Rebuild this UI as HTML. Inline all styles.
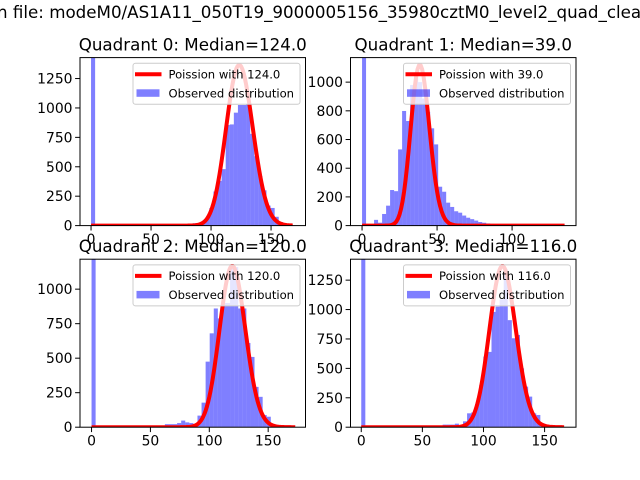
<!DOCTYPE html>
<html><head><meta charset="utf-8"><style>
html,body{margin:0;padding:0;background:#fff;}
svg{display:block;font-family:"DejaVu Sans","Liberation Sans",sans-serif;}
</style></head><body>
<svg id="fig" width="640" height="480" viewBox="0 0 640 480">
<text x="-3" y="18" font-size="16.7" fill="#000">n file: modeM0/AS1A11_050T19_9000005156_35980cztM0_level2_quad_clean</text>
</svg>
<script>
const q0Counts=[3000,2,2,2,2,2,2,2,2,2,2,2,2,2,2,2,2,2,2,2,2,2,10,10,12,20,20,30,60,150,290,380,480,855,860,960,1025,1025,1030,780,590,420,300,170,150,75,30,12,5,2];
const q1Counts=[3000,5,10,40,20,81,139,248,240,531,799,729,980,1040,1000,886,793,678,566,271,236,160,130,100,90,70,55,45,35,25,20,15,12,10,8,7,5,3,3,2,2,2,1,1,1,1,1,1,1,1,1];
const q2Counts=[3000,2,2,10,10,2,2,2,2,2,2,10,10,2,12,12,12,12,22,22,22,30,48,35,30,20,84,178,475,680,860,788,900,900,1150,1160,860,860,610,509,292,220,88,76,20,8,3,2,2,1];
const q3Counts=[3000,1,1,1,1,1,1,1,1,1,1,1,1,1,1,1,10,10,10,10,22,22,22,30,15,50,118,125,200,359,600,640,980,1025,1087,1340,910,756,784,500,345,260,118,104,34,10,5,3,2,1];
const binWidths=[3.4,2.67,3.46,3.33];
const medians=[124,39,120,116];
const curvePeaks=[1365,1119,1168,1369];
const curveMax=[168,135,173,166];
const xTicks=[[0,50,100,150],[0,50,100],[0,50,100,150],[0,50,100,150]];
const yTicks=[[0,250,500,750,1000,1250],[0,200,400,600,800,1000],[0,250,500,750,1000],[0,250,500,750,1000,1250]];
const titles=["Quadrant 0: Median=124.0","Quadrant 1: Median=39.0","Quadrant 2: Median=120.0","Quadrant 3: Median=116.0"];
const xLims=[[-9.2,178.7],[-7.7,142.6],[-9.8,181.7],[-8.8,175.7]];
const yLims=[[0,1428],[0,1171],[0,1217],[0,1428]];
const allCounts=[q0Counts,q1Counts,q2Counts,q3Counts];
const axesBoxes=[[80,57.6],[350.5,57.6],[80,259.2],[350.5,259.2]];
const AW=225.5, AH=168;
const NS="http://www.w3.org/2000/svg";
const fig=document.getElementById('fig');
function mk(tag,attrs,parent){const e=document.createElementNS(NS,tag);for(const k in attrs)e.setAttribute(k,attrs[k]);(parent||fig).appendChild(e);return e;}
function logFact(n){let s=0;for(let i=2;i<=n;i++)s+=Math.log(i);return s;}
for(let q=0;q<4;q++){
  const [ax,ay]=axesBoxes[q];
  const xs=v=>ax+(v-xLims[q][0])/(xLims[q][1]-xLims[q][0])*AW;
  const ys=v=>ay+AH-(v-yLims[q][0])/(yLims[q][1]-yLims[q][0])*AH;
  const g=mk('g',{});
  
  
  const cp=mk('clipPath',{id:'clip'+q},g);
  mk('rect',{x:ax,y:ay,width:AW,height:AH},cp);
  const bars=mk('g',{'clip-path':'url(#clip'+q+')'},g);
  
  
  const bw=binWidths[q];
  allCounts[q].forEach((c,i)=>{
    const x1=xs(i*bw),x2=xs((i+1)*bw);
    const r=mk('rect',{x:x1,y:ys(c),width:x2-x1,height:ys(0)-ys(c),fill:'#0000ff','fill-opacity':0.5},bars);
    
    
  });
  const mu=medians[q];const lm=logFact(mu);
  let pts=[];
  for(let x=0;x<=curveMax[q];x++){
    const v=curvePeaks[q]*Math.exp((x-mu)*Math.log(mu)-(logFact(x)-lm));
    pts.push(xs(x).toFixed(2)+','+ys(v).toFixed(2));
  }
  const pl=mk('polyline',{points:pts.join(' '),fill:'none',stroke:'#ff0000','stroke-width':4,'stroke-linejoin':'round','clip-path':'url(#clip'+q+')'},g);
  
  
  const fr=mk('rect',{x:ax,y:ay,width:AW,height:AH,fill:'none',stroke:'#000','stroke-width':1},g);
  
  
  xTicks[q].forEach(t=>{
    const x=xs(t);
    mk('line',{x1:x,x2:x,y1:ay+AH,y2:ay+AH+4.9,stroke:'#000','stroke-width':1},g);
    const tx=mk('text',{x:x,y:ay+AH+18.5,'font-size':13.9,'text-anchor':'middle',fill:'#000'},g);
    tx.textContent=t;
    
    
  });
  yTicks[q].forEach(t=>{
    const y=ys(t);
    mk('line',{x1:ax-4.9,x2:ax,y1:y,y2:y,stroke:'#000','stroke-width':1},g);
    const tx=mk('text',{x:ax-7.5,y:y+5,'font-size':13.9,'text-anchor':'end',fill:'#000'},g);
    tx.textContent=t;
    
    
  });
  const tt=mk('text',{x:ax+AW/2,y:ay-7,'font-size':16.7,'text-anchor':'middle',fill:'#000'},g);
  tt.textContent=titles[q];
  
  
  const lg=mk('g',{},g);
  
  
  const lx=ax+AW-172.5, lyy=ay+5.7;
  mk('rect',{x:lx,y:lyy,width:167,height:41,rx:2.5,fill:'#fff','fill-opacity':0.8,stroke:'#cccccc','stroke-width':1},lg);
  mk('line',{x1:lx+2,x2:lx+28.5,y1:lyy+11,y2:lyy+11,stroke:'#ff0000','stroke-width':4},lg);
  const t1=mk('text',{x:lx+35.5,y:lyy+15.2,'font-size':11.6,fill:'#000'},lg);
  t1.textContent='Poission with '+medians[q].toFixed(1);
  
  
  mk('rect',{x:lx+3.5,y:lyy+26,width:23,height:7.5,fill:'#0000ff','fill-opacity':0.5},lg);
  const t2=mk('text',{x:lx+35.5,y:lyy+34.2,'font-size':11.6,fill:'#000'},lg);
  t2.textContent='Observed distribution';
  
  
}
</script>
</body></html>
